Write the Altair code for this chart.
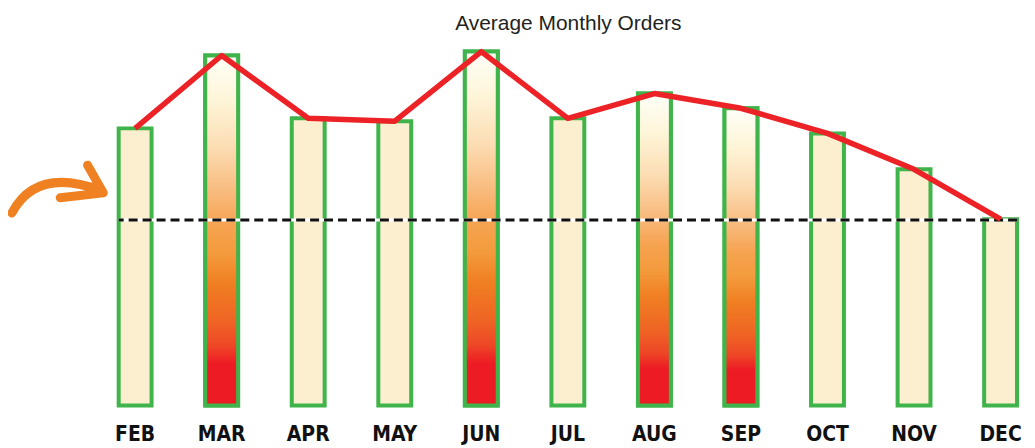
import altair as alt
import pandas as pd

months = ["FEB", "MAR", "APR", "MAY", "JUN", "JUL", "AUG", "SEP", "OCT", "NOV", "DEC"]
orders = [77.2, 97.5, 80.0, 79.2, 98.6, 80.0, 86.9, 82.8, 75.8, 65.8, 51.9]
highlighted = ["MAR", "JUN", "AUG", "SEP"]
reference_level = 51.7
title_text = "Average Monthly Orders"

df = pd.DataFrame({
    "month": months,
    "orders": orders,
    "hl": [m in highlighted for m in months],
})

GREEN = "#3FB44A"
BEIGE = "#FCEFCF"
RED = "#EC2227"
ORANGE_ARROW = "#F08122"

yscale = alt.Scale(domain=[0, 100], nice=False, zero=True)
x_enc = alt.X("month:N", sort=months,
              scale=alt.Scale(paddingInner=0.62, paddingOuter=0),
              axis=alt.Axis(title=None, domain=False, ticks=False, grid=False,
                            labelAngle=0, labelFontSize=21, labelFontWeight="bold",
                            labelFont="Liberation Sans Narrow, DejaVu Sans Condensed, Liberation Sans",
                            labelColor="#111111", labelPadding=18))
y_enc = alt.Y("orders:Q", scale=yscale, axis=None)

base = alt.Chart(df)

plain_bars = base.mark_bar(fill=BEIGE, stroke=GREEN, strokeWidth=4).encode(x=x_enc, y=y_enc)

stops = [
    (0.0, "#FFFFF8"), (0.12, "#FEF6DA"), (0.26, "#FCDDB4"), (0.40, "#F8B879"),
    (0.48, "#F6A452"), (0.57, "#F39A3C"), (0.65, "#F07F22"), (0.76, "#EF6424"),
    (0.83, "#EE4727"), (0.88, "#ED1C24"), (1.0, "#ED1C24"),
]
gradient = {"gradient": "linear", "x1": 0, "y1": 0, "x2": 0, "y2": 1,
            "stops": [{"offset": o, "color": c} for o, c in stops]}
grad_bars = base.transform_filter("datum.hl").mark_bar(
    fill=gradient, stroke=GREEN, strokeWidth=4).encode(x=x_enc, y=y_enc)

ref_df = pd.DataFrame({"level": [reference_level]})
white_rule = alt.Chart(ref_df).mark_rule(color="white", strokeWidth=3).encode(
    y=alt.Y("level:Q", scale=yscale, axis=None))
dash_rule = alt.Chart(ref_df).mark_rule(color="#111111", strokeWidth=3, strokeDash=[9, 5]).encode(
    y=alt.Y("level:Q", scale=yscale, axis=None))

line = base.mark_line(color=RED, strokeWidth=5.5, strokeJoin="round").encode(x=x_enc, y=y_enc)

title_df = pd.DataFrame({"t": [title_text]})
title = alt.Chart(title_df).mark_text(
    font="Liberation Sans", fontSize=21, color="#231F20", align="center", baseline="alphabetic"
).encode(text="t:N", x=alt.value(451), y=alt.value(-17))

arrow_df = pd.DataFrame({"t": ["arrow"]})
arrow = alt.Chart(arrow_df).mark_point(
    shape="M -0.96 0.52 Q -0.45 -0.45 0.9 0.05 M 0.62 -0.48 L 0.95 0.1 L 0.05 0.2",
    filled=False, stroke=ORANGE_ARROW, strokeWidth=9, strokeCap="round", strokeJoin="round",
    opacity=1, size=9216,
).encode(x=alt.value(-61), y=alt.value(142))

chart = alt.layer(plain_bars, grad_bars, white_rule, dash_rule, line, title, arrow).properties(
    width=901, height=360,
    autosize=alt.AutoSizeParams(type="none"),
    padding={"left": 111, "top": 38, "right": 10, "bottom": 40},
    background="white",
).configure_view(strokeWidth=0)

chart.save("out.html", embed_options={"renderer": "svg", "actions": False})
